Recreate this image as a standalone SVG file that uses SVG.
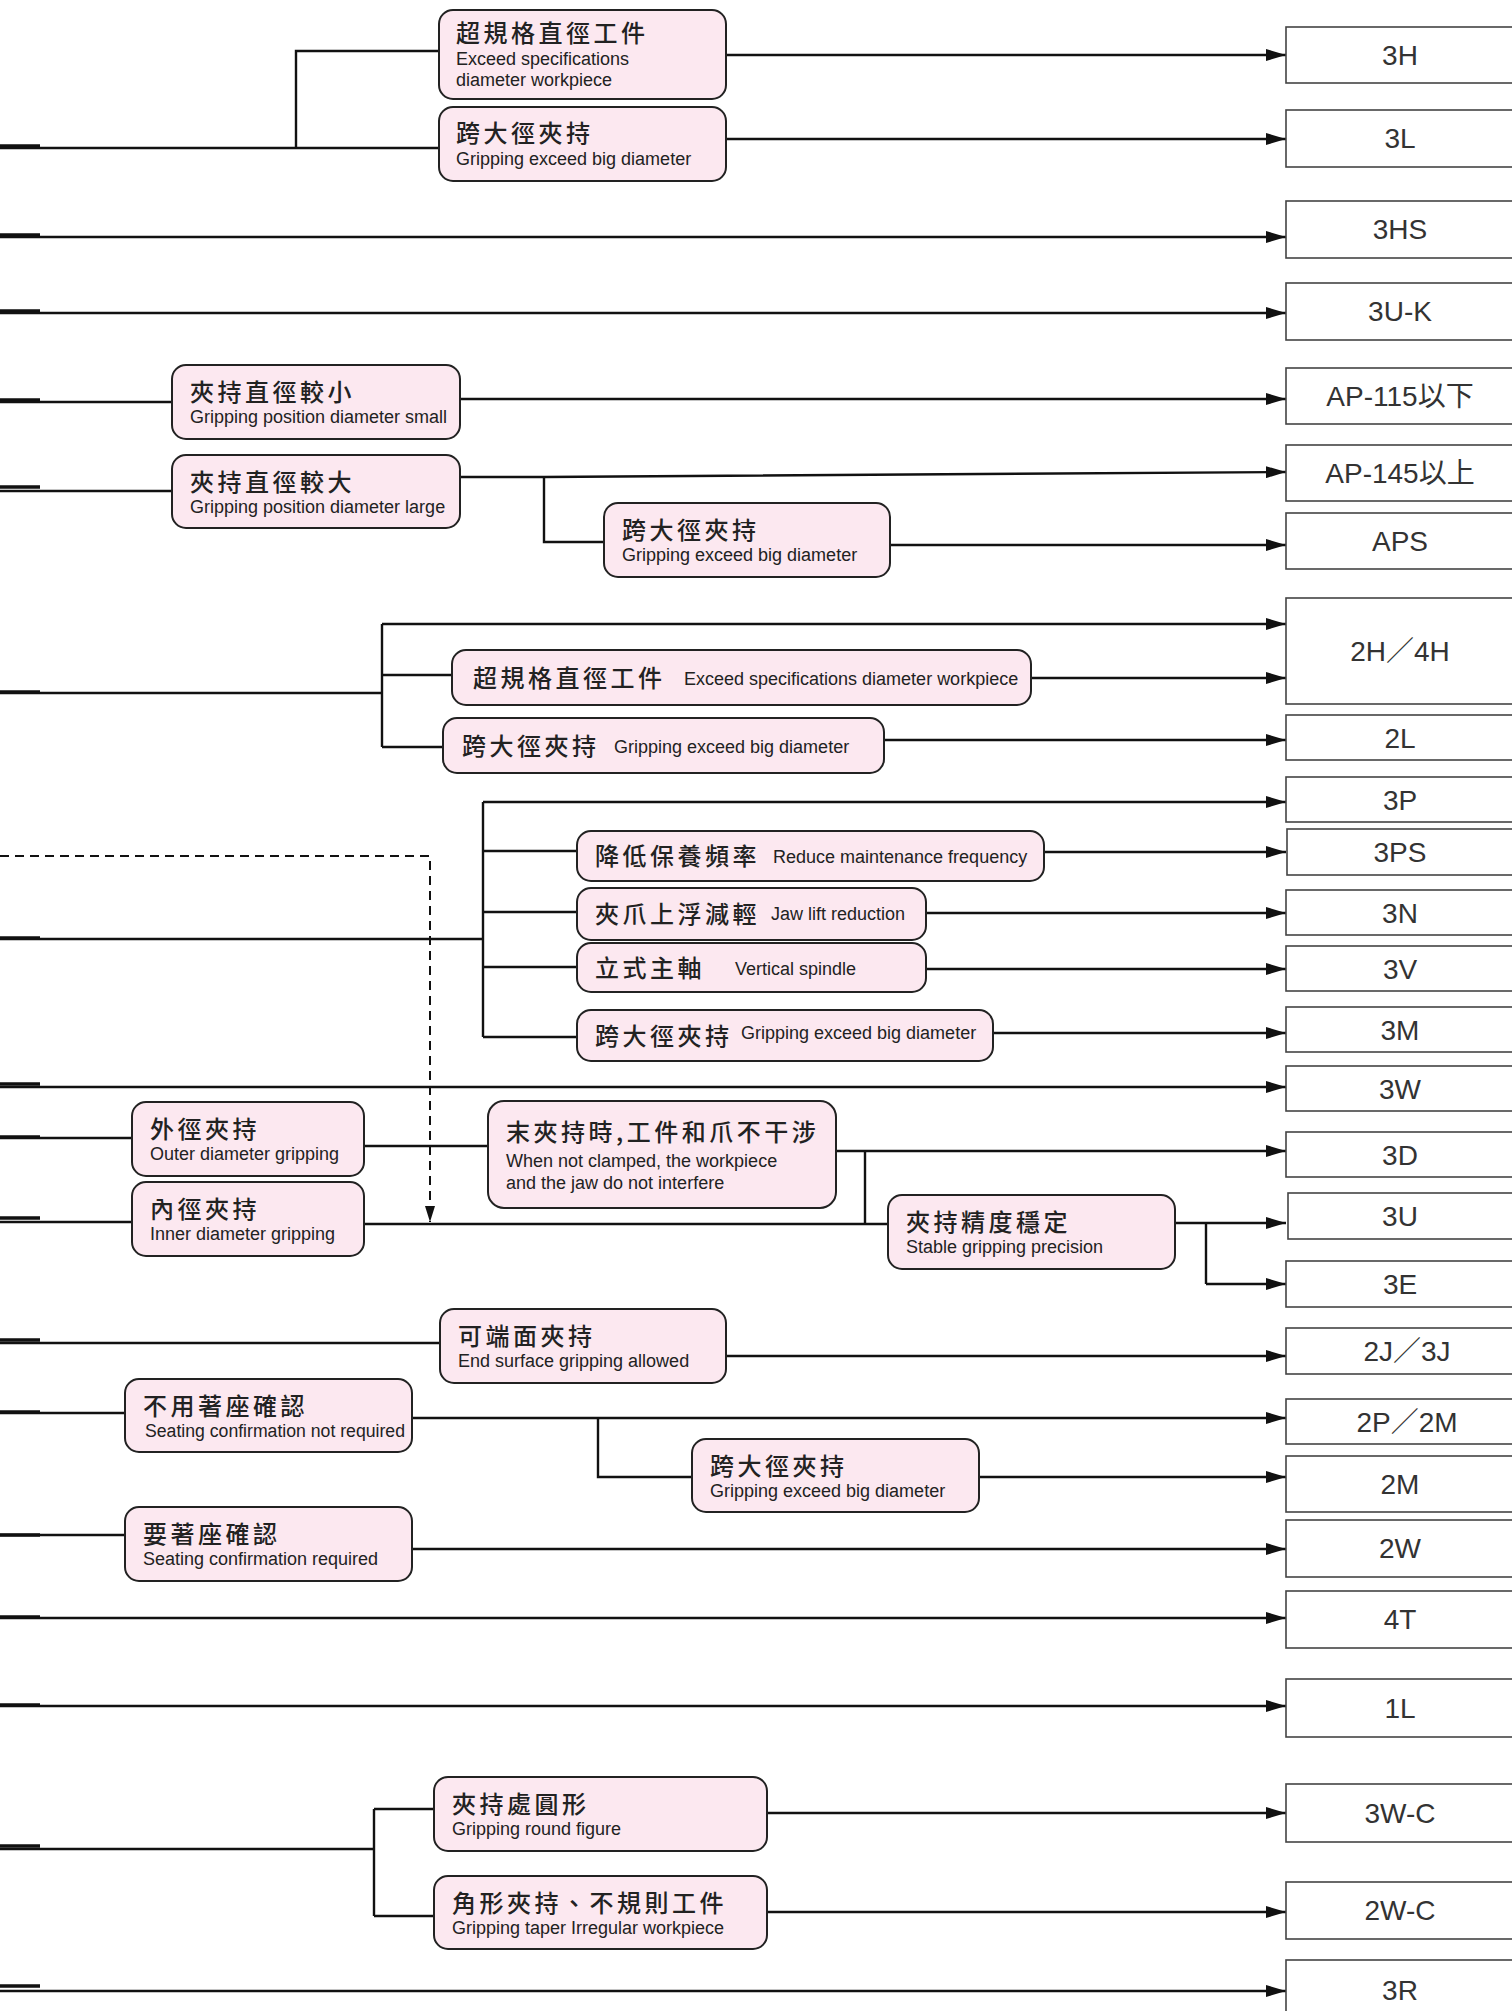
<svg xmlns="http://www.w3.org/2000/svg" width="1512" height="2011" viewBox="0 0 1512 2011">
<style>
.bg{fill:#ffffff}
.nb{fill:#fce8f0;stroke:#222;stroke-width:2}
.rb{fill:#ffffff;stroke:#444;stroke-width:1.6}
.cj{font-family:"Noto Sans CJK TC","Noto Sans CJK SC",sans-serif;font-size:24px;font-weight:500;letter-spacing:3.5px;fill:#222}
.en{font-family:"Liberation Sans",Arial,sans-serif;font-size:18px;fill:#222}
.rl{font-family:"Liberation Sans","Noto Sans CJK TC",sans-serif;font-size:28px;fill:#333;text-anchor:middle}
.ln{fill:none;stroke:#111;stroke-width:2.4}
.ar{fill:none;stroke:#111;stroke-width:2.4;marker-end:url(#ah)}
.st{fill:none;stroke:#111;stroke-width:3.5}
.ds{fill:none;stroke:#111;stroke-width:2;stroke-dasharray:9 6}
</style>
<defs>
<marker id="ah" markerUnits="userSpaceOnUse" markerWidth="20" markerHeight="12" refX="20" refY="6" orient="auto">
<path d="M0,0 L20,6 L0,12 z" fill="#111"/>
</marker>
<marker id="ahd" markerUnits="userSpaceOnUse" markerWidth="16" markerHeight="10" refX="16" refY="5" orient="auto">
<path d="M0,0 L16,5 L0,10 z" fill="#111"/>
</marker>
</defs>
<rect class="bg" x="0" y="0" width="1512" height="2011"/>

<g id="connectors">
<path class="st" d="M0,146 H40 M0,235 H40 M0,311 H40 M0,400 H40 M0,487 H40 M0,692 H40 M0,1084 H40 M0,1137 H40 M0,1218 H40 M0,1340 H40 M0,1412 H40 M0,1535 H40 M0,1617 H40 M0,1705 H40 M0,1846 H40 M0,1986 H40 M0,938 H40"/>
<path class="ln" d="M0,148 H439 M296,148 V51 H439"/>
<path class="ar" d="M726,55 H1286"/>
<path class="ar" d="M726,139 H1286"/>
<path class="ar" d="M0,237 H1286"/>
<path class="ar" d="M0,313 H1286"/>
<path class="ln" d="M0,402 H172"/>
<path class="ar" d="M460,399 H1286"/>
<path class="ln" d="M0,491 H172 M544,477 V542 H604"/>
<path class="ar" d="M460,477 H544 L1286,472"/>
<path class="ar" d="M890,545 H1286"/>
<path class="ln" d="M0,693 H382 M382,624 V747 M382,675 H452 M382,747 H443"/>
<path class="ar" d="M382,624 H1286"/>
<path class="ar" d="M1031,678 H1286"/>
<path class="ar" d="M884,740 H1286"/>
<path class="ds" d="M0,856 H430 V1222" marker-end="url(#ahd)"/>
<path class="ln" d="M0,939 H483 M483,802 V1037 M483,851 H577 M483,912 H577 M483,967 H577 M483,1037 H577"/>
<path class="ar" d="M483,802 H1286"/>
<path class="ar" d="M1044,852 H1286"/>
<path class="ar" d="M926,913 H1286"/>
<path class="ar" d="M926,969 H1286"/>
<path class="ar" d="M993,1033 H1286"/>
<path class="ar" d="M0,1087 H1286"/>
<path class="ln" d="M0,1138 H132 M364,1146 H488 M865,1151 V1223 M0,1222 H132 M364,1224 H888 M1206,1223 V1284"/>
<path class="ar" d="M836,1151 H1286"/>
<path class="ar" d="M1175,1223 H1286"/>
<path class="ar" d="M1206,1284 H1286"/>
<path class="ln" d="M0,1343 H440 M0,1413 H125 M598,1418 V1477 H692 M0,1535 H125"/>
<path class="ar" d="M726,1356 H1286"/>
<path class="ar" d="M412,1418 H1286"/>
<path class="ar" d="M979,1477 H1286"/>
<path class="ar" d="M412,1549 H1286"/>
<path class="ar" d="M0,1618 H1286"/>
<path class="ar" d="M0,1706 H1286"/>
<path class="ln" d="M0,1849 H374 M374,1809 V1916 M374,1809 H434 M374,1916 H434"/>
<path class="ar" d="M767,1813 H1286"/>
<path class="ar" d="M767,1912 H1286"/>
<path class="ar" d="M0,1991 H1286"/>
</g>

<g id="n_exceed1"><rect class="nb" x="439" y="10" width="287" height="89" rx="14"/><text class="cj" x="456" y="42">超規格直徑工件</text><text class="en" x="456" y="65">Exceed specifications</text><text class="en" x="456" y="86">diameter workpiece</text></g>
<g id="n_big1"><rect class="nb" x="439" y="107" width="287" height="74" rx="14"/><text class="cj" x="456" y="142">跨大徑夾持</text><text class="en" x="456" y="165">Gripping exceed big diameter</text></g>
<g id="n_small"><rect class="nb" x="172" y="365" width="288" height="74" rx="14"/><text class="cj" x="190" y="401">夾持直徑較小</text><text class="en" x="190" y="423">Gripping position diameter small</text></g>
<g id="n_large"><rect class="nb" x="172" y="455" width="288" height="73" rx="14"/><text class="cj" x="190" y="491">夾持直徑較大</text><text class="en" x="190" y="513">Gripping position diameter large</text></g>
<g id="n_big2"><rect class="nb" x="604" y="503" width="286" height="74" rx="14"/><text class="cj" x="622" y="539">跨大徑夾持</text><text class="en" x="622" y="561">Gripping exceed big diameter</text></g>
<g id="n_exceed2"><rect class="nb" x="452" y="650" width="579" height="55" rx="14"/><text class="cj" x="473" y="687">超規格直徑工件</text><text class="en" x="684" y="685">Exceed specifications diameter workpiece</text></g>
<g id="n_big3"><rect class="nb" x="443" y="718" width="441" height="55" rx="14"/><text class="cj" x="462" y="755">跨大徑夾持</text><text class="en" x="614" y="753">Gripping exceed big diameter</text></g>
<g id="n_maint"><rect class="nb" x="577" y="831" width="467" height="50" rx="14"/><text class="cj" x="595" y="865">降低保養頻率</text><text class="en" x="773" y="863">Reduce maintenance frequency</text></g>
<g id="n_jaw"><rect class="nb" x="577" y="888" width="349" height="52" rx="14"/><text class="cj" x="595" y="923">夾爪上浮減輕</text><text class="en" x="771" y="920">Jaw lift reduction</text></g>
<g id="n_vert"><rect class="nb" x="577" y="943" width="349" height="49" rx="14"/><text class="cj" x="595" y="977">立式主軸</text><text class="en" x="735" y="975">Vertical spindle</text></g>
<g id="n_big4"><rect class="nb" x="577" y="1010" width="416" height="51" rx="14"/><text class="cj" x="595" y="1045">跨大徑夾持</text><text class="en" x="741" y="1039">Gripping exceed big diameter</text></g>
<g id="n_outer"><rect class="nb" x="132" y="1102" width="232" height="74" rx="14"/><text class="cj" x="150" y="1138">外徑夾持</text><text class="en" x="150" y="1160">Outer diameter gripping</text></g>
<g id="n_inner"><rect class="nb" x="132" y="1182" width="232" height="74" rx="14"/><text class="cj" x="150" y="1218">內徑夾持</text><text class="en" x="150" y="1240">Inner diameter gripping</text></g>
<g id="n_noint"><rect class="nb" x="488" y="1101" width="348" height="107" rx="16"/><text class="cj" x="506" y="1141">末夾持時,工件和爪不干涉</text><text class="en" x="506" y="1167">When not clamped, the workpiece</text><text class="en" x="506" y="1189">and the jaw do not interfere</text></g>
<g id="n_stable"><rect class="nb" x="888" y="1195" width="287" height="74" rx="14"/><text class="cj" x="906" y="1231">夾持精度穩定</text><text class="en" x="906" y="1253">Stable gripping precision</text></g>
<g id="n_end"><rect class="nb" x="440" y="1309" width="286" height="74" rx="14"/><text class="cj" x="458" y="1345">可端面夾持</text><text class="en" x="458" y="1367">End surface gripping allowed</text></g>
<g id="n_noseat"><rect class="nb" x="125" y="1379" width="287" height="73" rx="14"/><text class="cj" x="143" y="1415">不用著座確認</text><text class="en" x="145" y="1437" textLength="260" lengthAdjust="spacingAndGlyphs">Seating confirmation not required</text></g>
<g id="n_big5"><rect class="nb" x="692" y="1439" width="287" height="73" rx="14"/><text class="cj" x="710" y="1475">跨大徑夾持</text><text class="en" x="710" y="1497">Gripping exceed big diameter</text></g>
<g id="n_seat"><rect class="nb" x="125" y="1507" width="287" height="74" rx="14"/><text class="cj" x="143" y="1543">要著座確認</text><text class="en" x="143" y="1565">Seating confirmation required</text></g>
<g id="n_round"><rect class="nb" x="434" y="1777" width="333" height="74" rx="14"/><text class="cj" x="452" y="1813">夾持處圓形</text><text class="en" x="452" y="1835">Gripping round figure</text></g>
<g id="n_taper"><rect class="nb" x="434" y="1876" width="333" height="73" rx="14"/><text class="cj" x="452" y="1912">角形夾持、不規則工件</text><text class="en" x="452" y="1934">Gripping taper Irregular workpiece</text></g>

<g id="r_3H"><rect class="rb" x="1286" y="27" width="240" height="56"/><text class="rl" x="1400" y="65">3H</text></g>
<g id="r_3L"><rect class="rb" x="1286" y="110" width="240" height="57"/><text class="rl" x="1400" y="148">3L</text></g>
<g id="r_3HS"><rect class="rb" x="1286" y="201" width="240" height="57"/><text class="rl" x="1400" y="239">3HS</text></g>
<g id="r_3UK"><rect class="rb" x="1286" y="283" width="240" height="57"/><text class="rl" x="1400" y="321">3U-K</text></g>
<g id="r_AP115"><rect class="rb" x="1286" y="368" width="240" height="56"/><text class="rl" x="1400" y="406">AP-115以下</text></g>
<g id="r_AP145"><rect class="rb" x="1286" y="445" width="240" height="56"/><text class="rl" x="1400" y="483">AP-145以上</text></g>
<g id="r_APS"><rect class="rb" x="1286" y="513" width="240" height="56"/><text class="rl" x="1400" y="551">APS</text></g>
<g id="r_2H4H"><rect class="rb" x="1286" y="598" width="240" height="106"/><text class="rl" x="1400" y="661">2H／4H</text></g>
<g id="r_2L"><rect class="rb" x="1286" y="715" width="240" height="45"/><text class="rl" x="1400" y="748">2L</text></g>
<g id="r_3P"><rect class="rb" x="1286" y="777" width="240" height="45"/><text class="rl" x="1400" y="810">3P</text></g>
<g id="r_3PS"><rect class="rb" x="1287" y="829" width="240" height="46"/><text class="rl" x="1400" y="862">3PS</text></g>
<g id="r_3N"><rect class="rb" x="1286" y="890" width="240" height="45"/><text class="rl" x="1400" y="923">3N</text></g>
<g id="r_3V"><rect class="rb" x="1286" y="946" width="240" height="45"/><text class="rl" x="1400" y="979">3V</text></g>
<g id="r_3M"><rect class="rb" x="1286" y="1007" width="240" height="45"/><text class="rl" x="1400" y="1040">3M</text></g>
<g id="r_3W"><rect class="rb" x="1286" y="1066" width="240" height="45"/><text class="rl" x="1400" y="1099">3W</text></g>
<g id="r_3D"><rect class="rb" x="1286" y="1132" width="240" height="45"/><text class="rl" x="1400" y="1165">3D</text></g>
<g id="r_3U"><rect class="rb" x="1288" y="1193" width="240" height="46"/><text class="rl" x="1400" y="1226">3U</text></g>
<g id="r_3E"><rect class="rb" x="1286" y="1261" width="240" height="46"/><text class="rl" x="1400" y="1294">3E</text></g>
<g id="r_2J3J"><rect class="rb" x="1286" y="1328" width="240" height="46"/><text class="rl" x="1407" y="1361">2J／3J</text></g>
<g id="r_2P2M"><rect class="rb" x="1286" y="1399" width="240" height="45"/><text class="rl" x="1407" y="1432">2P／2M</text></g>
<g id="r_2M"><rect class="rb" x="1286" y="1456" width="240" height="56"/><text class="rl" x="1400" y="1494">2M</text></g>
<g id="r_2W"><rect class="rb" x="1286" y="1520" width="240" height="57"/><text class="rl" x="1400" y="1558">2W</text></g>
<g id="r_4T"><rect class="rb" x="1286" y="1591" width="240" height="57"/><text class="rl" x="1400" y="1629">4T</text></g>
<g id="r_1L"><rect class="rb" x="1286" y="1679" width="240" height="58"/><text class="rl" x="1400" y="1718">1L</text></g>
<g id="r_3WC"><rect class="rb" x="1286" y="1784" width="240" height="58"/><text class="rl" x="1400" y="1823">3W-C</text></g>
<g id="r_2WC"><rect class="rb" x="1286" y="1882" width="240" height="57"/><text class="rl" x="1400" y="1920">2W-C</text></g>
<g id="r_3R"><rect class="rb" x="1286" y="1960" width="240" height="70"/><text class="rl" x="1400" y="2000">3R</text></g>
</svg>
